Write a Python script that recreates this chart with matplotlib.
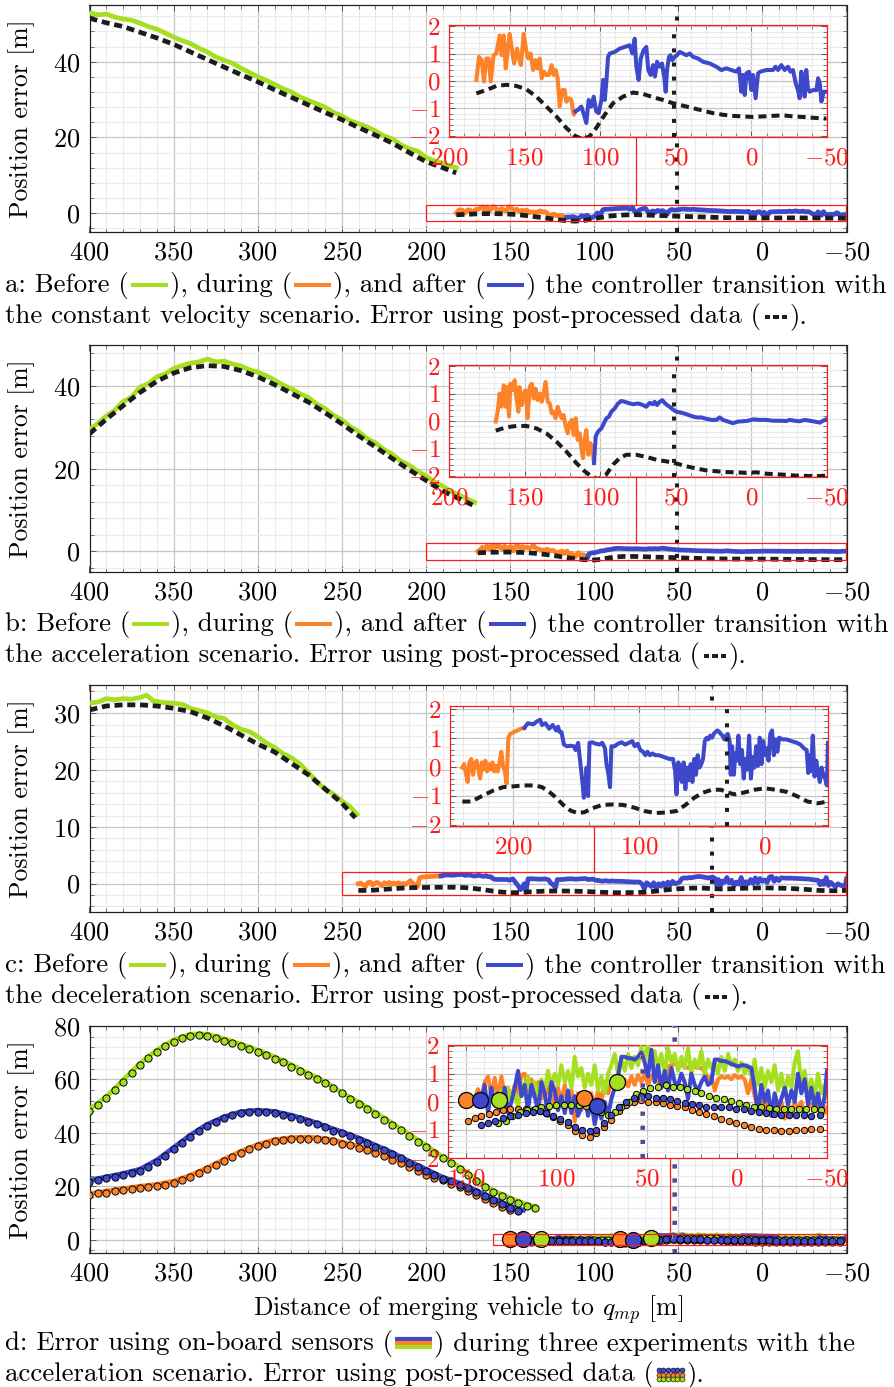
import numpy as np
import matplotlib
matplotlib.use("Agg")
import matplotlib.pyplot as plt
from matplotlib.ticker import MultipleLocator, FuncFormatter
from matplotlib.lines import Line2D
from matplotlib.patches import Rectangle

plt.rcParams.update({
    "font.family": ["cmr10", "DejaVu Serif"],
    "mathtext.fontset": "cm",
    "axes.formatter.use_mathtext": True,
    "axes.unicode_minus": True,
})

# ---------------------------------------------------------------- colours
GREEN = "#a6df1f"
ORANGE = "#fd8228"
BLUE = "#3d48cb"
POST = "#1c1c1c"
RED = "#ff1a1a"
GRID_MAJ = "#c6c6c6"
GRID_MIN = "#ebebeb"

# ================================================================ data
# (a) constant velocity scenario
A_GREEN_X = [400, 395, 390, 385, 380, 375, 370, 365, 360, 355, 350, 345, 340, 335, 330,
             325, 320, 315, 310, 305, 300, 295, 290, 285, 280, 275, 270, 265, 260, 255,
             250, 245, 240, 235, 230, 225, 220, 215, 210, 205, 200, 195, 190, 185, 182]
A_GREEN_Y = [53.0, 52.4, 52.6, 51.8, 51.3, 51.0, 50.2, 49.3, 48.6, 47.6, 46.5, 45.6, 44.8,
             43.6, 42.6, 41.3, 40.4, 39.6, 38.3, 37.2, 36.0, 35.1, 34.0, 32.9, 32.0, 30.7,
             29.8, 28.9, 28.0, 26.6, 25.7, 24.4, 23.6, 22.8, 21.7, 20.4, 19.6, 18.1, 17.0,
             16.4, 14.7, 13.8, 13.2, 12.4, 12.0]
A_POST_BEF_X = [400, 390, 380, 370, 360, 350, 340, 330, 320, 310, 300, 290, 280, 270, 260,
                250, 240, 230, 220, 210, 200, 190, 182]
A_POST_BEF_Y = [51.5, 50.3, 49.3, 47.8, 46.3, 44.6, 42.6, 40.6, 38.6, 36.6, 34.7, 32.6, 30.6,
                28.6, 26.6, 24.7, 22.6, 20.6, 18.5, 16.0, 13.6, 12.0, 10.6]
A_DUR_X = [181.9, 180.2, 178.4, 176.9, 175.3, 173.8, 172.4, 170.5, 168.7, 166.5, 165.2, 163.8,
           162.5, 161.2, 159.9, 158.6, 157.0, 155.0, 153.7, 152.4, 150.6, 148.9, 147.5, 146.0,
           144.4, 142.9, 141.6, 140.0, 138.7, 137.2, 135.6, 133.9, 132.1, 130.8, 129.5, 128.1,
           126.8, 125.0, 123.5, 122.4, 120.6, 119.1, 117.5, 116.4]
A_DUR_Y = [0.04, 0.88, 0.76, -0.02, 0.82, 0.82, -0.02, 0.94, 1.00, 1.66, 0.94, 1.66, 0.46,
           1.12, 1.72, 1.24, 0.64, 1.18, 0.82, 0.58, 1.72, 1.12, 0.82, 1.00, 0.40, 0.76, 0.46,
           0.82, 0.10, 0.34, 0.22, 0.22, 0.58, 0.22, 0.40, 0.10, -0.93, -0.33, -0.33, -0.75,
           -0.63, -0.69, -1.23, -1.11]
A_AFT_X = [116.4, 114.7, 112.5, 110.7, 109.2, 107.6, 105.9, 104.3, 102.6, 101.0,
           99.2, 98.1, 97.0, 95.9, 94.8, 93.7, 90.4, 87.1, 83.8, 80.5,
           78.7, 77.2, 76.1, 74.6, 73.2, 71.3, 69.5, 68.2, 66.6, 65.1,
           63.8, 62.4, 60.7, 59.1, 57.4, 56.7, 55.8, 54.5, 53.6, 52.3,
           50.7, 49.2, 47.4, 45.2, 43.0, 40.8, 38.6, 35.3, 32.0, 27.6,
           23.2, 19.9, 16.6, 13.3, 10.0, 8.2, 6.7, 5.6, 4.4, 3.3,
           1.6, 0.0, -1.1, -2.8, -4.4, -5.9, -9.9, -14.3, -16.0, -17.6,
           -19.8, -22.0, -24.2, -25.8, -27.5, -29.3, -30.8, -31.9, -33.0, -34.1,
           -35.2, -36.3, -37.4, -38.5, -40.7, -43.0, -44.1, -45.2, -46.3, -47.8,
           -49.6]
A_AFT_Y = [-1.11, -1.05, -0.93, -1.23, -1.53, -0.69, -0.93, -0.57, -1.11, -1.17,
           -0.69, 0.04, -0.69, -0.02, 0.88, 1.00, 1.06, 1.18, 1.24, 1.30,
           1.00, 1.54, 0.52, 0.04, 0.82, 1.12, 1.24, 0.40, 0.22, 0.58,
           0.16, 0.70, 0.52, 0.64, 0.04, -0.39, 0.40, 0.88, 0.94, 0.76,
           0.88, 0.94, 1.06, 1.00, 0.94, 1.00, 0.88, 0.82, 0.70, 0.64,
           0.52, 0.40, 0.46, 0.40, 0.34, 0.46, -0.39, 0.22, -0.51, 0.28,
           0.34, -0.33, 0.22, -0.63, 0.28, 0.34, 0.40, 0.40, 0.52, 0.40,
           0.58, 0.40, 0.52, 0.34, 0.40, -0.08, -0.33, -0.63, 0.34, 0.04,
           -0.57, 0.40, -0.27, -0.39, -0.33, -0.33, 0.10, -0.08, -0.75, -0.39,
           -0.39]
A_POST_AFT_X = [181.9, 175.3, 168.7, 162.1, 155.5, 148.9, 142.2, 135.6, 129.0, 122.4, 116.9,
                111.4, 107.0, 102.6, 97.0, 91.5, 84.9, 78.3, 71.7, 65.1, 58.5, 51.9, 45.2,
                38.6, 32.0, 25.4, 18.8, 12.2, 5.6, -1.1, -7.7, -14.3, -20.9, -27.5, -34.1,
                -40.7, -49.6]
A_POST_AFT_Y = [-0.45, -0.33, -0.18, -0.14, -0.18, -0.30, -0.57, -0.93, -1.29, -1.71, -1.99,
                -2.13, -2.01, -1.71, -1.23, -0.81, -0.57, -0.42, -0.47, -0.59, -0.69, -0.81,
                -0.90, -0.99, -1.08, -1.17, -1.23, -1.27, -1.29, -1.31, -1.29, -1.27, -1.25,
                -1.29, -1.31, -1.34, -1.37]
A_SWITCH = 51

# (b) acceleration scenario
B_GREEN_X = [400, 395, 390, 385, 380, 375, 370, 365, 360, 355, 350, 345, 340, 335, 330,
             325, 320, 315, 310, 305, 300, 295, 290, 285, 280, 275, 270, 265, 260, 255,
             250, 245, 240, 235, 230, 225, 220, 215, 210, 205, 200, 195, 190, 185, 180,
             175, 171]
B_GREEN_Y = [29.5, 31.0, 32.8, 34.2, 36.3, 37.4, 39.8, 40.6, 42.3, 43.0,
             44.3, 45.0, 45.6, 45.9, 46.6, 45.9, 46.1, 45.4, 44.9, 44.0,
             43.4, 42.6, 41.5, 40.3, 39.4, 38.2, 37.3, 35.7, 34.6, 33.0,
             31.9, 30.2, 29.0, 27.3, 26.3, 24.7, 23.5, 21.9, 20.9, 19.4,
             18.3, 16.9, 15.8, 14.5, 13.6, 12.6, 11.9]
B_POST_BEF_X = [400, 390, 380, 370, 360, 350, 340, 330, 320, 310, 300, 290, 280, 270, 260,
                250, 240, 230, 220, 210, 200, 190, 180, 171]
B_POST_BEF_Y = [28.5, 32.0, 35.3, 38.5, 41.2, 43.2, 44.5, 45.0, 44.8, 43.8, 42.3, 40.4, 38.3,
                36.2, 33.6, 30.9, 28.0, 25.3, 22.5, 19.8, 17.2, 14.6, 12.7, 11.0]
B_DUR_X = [169.1, 167.8, 166.5, 165.2, 163.8, 162.5, 161.4, 160.3, 159.4, 158.1,
           156.6, 155.5, 154.1, 153.3, 151.9, 150.6, 149.3, 148.0, 146.6, 145.3,
           144.0, 142.7, 141.4, 140.0, 138.7, 137.4, 136.1, 134.7, 133.4, 132.1,
           130.8, 129.5, 128.1, 126.8, 125.5, 124.2, 122.8, 121.5, 120.2, 118.9,
           117.5, 116.2, 114.9, 113.6, 112.3, 111.4, 110.3, 109.2, 107.8, 106.5,
           105.2, 104.1]
B_DUR_Y = [-0.02, 0.34, 1.00, 0.52, 1.30, 0.52, 1.24, 0.16, 1.36, 1.12,
           1.48, 0.88, 0.34, 1.24, 0.58, 1.00, 1.12, 0.10, 1.24, 1.36,
           0.82, 1.18, 0.76, 1.00, 0.70, 1.00, 1.42, 0.70, 0.64, 0.28,
           0.34, 0.10, 0.52, 0.28, 0.10, 0.22, -0.20, -0.45, -0.08, 0.04,
           -0.51, 0.10, -0.69, -0.45, -1.05, -1.35, -0.69, -0.33, -1.23, -0.81,
           -1.05, -1.53]
B_AFT_X = [104.1, 103.0, 101.5, 99.2, 97.0, 95.9, 94.2, 92.6, 90.4, 88.2,
           86.0, 83.8, 81.6, 78.3, 75.0, 71.7, 69.5, 67.3, 65.1, 64.0,
           62.4, 60.7, 58.9, 57.4, 55.8, 54.1, 51.9, 49.6, 46.3, 43.0,
           39.7, 36.4, 33.1, 29.8, 26.5, 23.2, 21.0, 18.8, 15.5, 12.2,
           8.9, 5.6, 2.2, -1.1, -5.5, -9.9, -14.3, -18.7, -23.1, -25.3,
           -28.6, -31.9, -35.2, -38.5, -41.8, -45.2, -47.4, -49.6]
B_AFT_Y = [-1.53, -0.57, -0.39, -0.27, -0.02, 0.10, 0.16, 0.34, 0.46, 0.64,
           0.73, 0.70, 0.66, 0.61, 0.64, 0.58, 0.52, 0.66, 0.61, 0.70,
           0.58, 0.70, 0.76, 0.66, 0.58, 0.52, 0.42, 0.34, 0.30, 0.25,
           0.18, 0.13, 0.13, 0.08, 0.04, 0.04, 0.13, 0.04, -0.02, -0.08,
           -0.02, -0.01, 0.01, 0.06, 0.04, 0.04, 0.01, 0.01, 0.00, 0.04,
           0.01, -0.01, 0.04, 0.01, -0.02, -0.06, 0.01, 0.06]
B_POST_AFT_X = [169.1, 162.1, 155.5, 148.9, 142.2, 135.6, 129.0, 122.4, 115.8, 110.3, 105.9,
                101.5, 96.0, 91.5, 87.1, 82.7, 76.1, 69.5, 62.9, 56.3, 49.6, 43.0, 36.4, 29.8,
                23.2, 16.6, 10.0, 3.3, -3.3, -9.9, -16.5, -23.1, -29.7, -36.3, -42.9, -49.6]
B_POST_AFT_Y = [-0.35, -0.23, -0.18, -0.18, -0.27, -0.45, -0.75, -1.11, -1.53, -1.83, -2.01,
                -2.13, -1.95, -1.59, -1.35, -1.23, -1.23, -1.31, -1.41, -1.47, -1.55, -1.65,
                -1.73, -1.80, -1.83, -1.86, -1.87, -1.89, -1.87, -1.92, -1.94, -1.96, -1.99,
                -2.00, -2.01, -1.99]
B_SWITCH = 51

# (c) deceleration scenario
C_GREEN_X = [400, 395, 390, 385, 380, 375, 370, 366, 362, 356, 350, 345, 340, 335, 330, 325,
             320, 315, 310, 305, 300, 295, 290, 285, 280, 275, 270, 265, 260, 255, 250, 245, 241]
C_GREEN_Y = [31.8, 32.0, 32.6, 32.4, 32.6, 32.5, 32.8, 33.2, 32.2, 31.9, 31.8, 31.6, 30.9,
             30.5, 30.1, 29.4, 29.1, 28.0, 27.2, 26.8, 25.9, 24.8, 24.0, 22.9, 22.2, 21.1,
             19.6, 18.0, 16.6, 15.8, 14.6, 13.5, 12.2]
C_POST_BEF_X = [400, 390, 380, 370, 360, 350, 340, 330, 320, 310, 300, 290, 280, 270, 260, 250, 242]
C_POST_BEF_Y = [30.6, 31.3, 31.5, 31.5, 31.3, 30.9, 30.3, 29.2, 27.8, 26.2, 24.6, 23.2, 21.2,
                19.2, 16.7, 14.2, 11.6]
C_DUR_X = [240.2, 238.8, 237.4, 236.0, 234.6, 233.1, 231.7, 230.3, 228.9, 227.5, 226.1, 224.7,
           223.3, 221.9, 220.5, 219.1, 217.7, 216.3, 214.9, 213.5, 212.1, 210.7, 209.3, 207.9,
           206.5, 205.1, 203.7, 202.2, 199.4, 196.6, 193.8, 191.0]
C_DUR_Y = [-0.02, 0.10, -0.21, -0.52, 0.16, 0.28, -0.27, 0.10, 0.22, -0.09, -0.40, 0.16,
           -0.09, 0.22, -0.15, 0.10, -0.09, 0.16, -0.15, 0.04, -0.15, 0.16, 0.53, 0.04,
           -0.15, -0.58, 1.02, 1.15, 1.21, 1.27, 1.33, 1.36]
C_AFT_X = [191.0, 188.2, 184.0, 181.2, 178.4, 177.0, 174.2, 171.3, 168.5, 165.7,
           164.3, 162.9, 161.5, 159.6, 157.3, 154.5, 151.7, 150.3, 148.3, 146.6,
           144.9, 143.8, 142.7, 141.6, 140.4, 139.3, 137.1, 134.3, 131.5, 129.2,
           127.0, 125.8, 124.4, 123.0, 121.9, 119.4, 116.6, 113.8, 111.0, 108.1,
           105.3, 103.4, 101.1, 98.9, 96.9, 94.9, 93.3, 91.3, 89.3, 87.1,
           84.3, 81.5, 78.6, 75.8, 73.0, 71.3, 70.2, 68.8, 67.4, 66.0,
           64.6, 63.2, 61.8, 60.4, 59.0, 57.6, 56.2, 54.8, 53.4, 52.0,
           50.6, 49.2, 47.8, 46.3, 44.9, 43.5, 42.1, 40.7, 39.3, 37.9,
           36.5, 35.1, 33.7, 32.3, 30.9, 29.5, 28.1, 27.2, 26.1, 24.7,
           23.6, 22.5, 21.1, 19.7, 18.3, 16.9, 15.5, 14.0, 12.6, 11.2,
           9.8, 8.4, 7.0, 5.6, 4.2, 2.8, 1.4, 0.0, -1.4, -2.8,
           -4.2, -5.6, -7.0, -8.4, -9.8, -11.2, -14.0, -16.9, -21.1, -25.3,
           -28.1, -30.9, -33.1, -34.3, -35.4, -36.5, -37.9, -39.3, -40.7, -42.1,
           -43.5, -44.9, -46.3, -47.7, -49.1, -50.0]
C_AFT_Y = [1.36, 1.52, 1.48, 1.58, 1.64, 1.46, 1.52, 1.33, 1.46, 1.27,
           1.40, 1.21, 1.21, 0.78, 0.72, 0.74, 0.72, 0.59, 0.84, 0.16,
           -0.52, -1.07, -0.77, -0.02, -1.01, 0.84, 0.86, 0.81, 0.78, 0.84,
           0.65, 0.10, -0.21, -0.70, 0.72, 0.72, 0.81, 0.86, 0.78, 0.84,
           0.90, 0.72, 0.81, 0.59, 0.53, 0.41, 0.53, 0.41, 0.47, 0.41,
           0.41, 0.37, 0.32, 0.28, 0.28, -0.15, -0.95, 0.16, -0.15, -0.52,
           0.16, -0.77, -0.02, -0.46, 0.10, -0.52, 0.28, -0.27, 0.41, -0.02,
           0.10, 0.28, 0.90, 1.02, 0.96, 1.09, 1.02, 1.15, 1.21, 1.27,
           1.23, 1.15, 1.09, 0.96, 1.09, 1.15, 0.90, -0.27, 0.72, -0.27,
           0.47, 0.22, 1.09, 0.10, 0.59, -0.40, 0.28, -0.09, 1.09, -0.40,
           0.35, -0.02, 0.72, 0.04, 1.02, 0.10, 0.90, 0.41, 0.65, 0.22,
           1.15, 1.27, 0.41, 0.96, 0.53, 1.02, 0.96, 0.96, 0.90, 0.84,
           0.78, 0.65, 0.59, -0.21, 0.41, -0.15, 1.09, -0.33, 0.22, -0.21,
           -0.52, -0.02, -0.27, -0.40, -0.64, 0.84]
C_POST_AFT_X = [240.2, 233.1, 224.7, 216.3, 207.9, 199.4, 191.0, 182.6, 177.0, 171.3, 165.7,
                160.1, 154.5, 148.9, 143.3, 137.6, 129.2, 120.8, 112.4, 103.9, 95.5, 87.1,
                78.6, 70.2, 63.2, 56.2, 49.2, 42.1, 35.1, 29.5, 23.9, 16.9, 8.4, 0.0, -8.4,
                -16.9, -25.3, -33.7, -42.1, -50.0]
C_POST_AFT_Y = [-1.20, -1.20, -1.01, -0.83, -0.70, -0.67, -0.64, -0.64, -0.70, -0.86, -1.07,
                -1.32, -1.51, -1.60, -1.57, -1.44, -1.32, -1.30, -1.32, -1.41, -1.53, -1.60,
                -1.58, -1.53, -1.32, -1.07, -0.89, -0.79, -0.79, -0.89, -0.95, -0.89, -0.79,
                -0.74, -0.79, -0.86, -1.01, -1.20, -1.26, -1.20]
C_SWITCH = 30

# (d) three acceleration experiments: post-processed error before the transition
D_ORANGE_PP_BEF_X = list(range(400, 145, -5))
D_ORANGE_PP_BEF_Y = [16.6, 17.3, 17.6, 18.1, 18.5, 18.9, 19.4, 19.8, 20.1, 20.6,
                     21.3, 22.3, 23.5, 24.8, 26.3, 27.9, 29.5, 31.0, 32.5, 33.8,
                     35.0, 36.0, 36.8, 37.3, 37.6, 37.8, 37.8, 37.6, 37.3, 36.8,
                     36.0, 35.3, 34.4, 33.5, 32.5, 31.3, 30.0, 28.8, 27.3, 25.8,
                     24.3, 23.2, 22.2, 21.0, 19.6, 18.1, 16.6, 15.1, 13.6, 12.4, 11.0]
D_BLUE_PP_BEF_X = list(range(400, 140, -5))
D_BLUE_PP_BEF_Y = [21.6, 22.3, 22.9, 23.5, 24.1, 24.8, 25.8, 27.3, 29.1, 31.3,
                   33.8, 36.3, 38.5, 40.6, 42.6, 44.1, 45.4, 46.5, 47.3, 47.8,
                   47.9, 47.8, 47.4, 46.8, 46.0, 45.1, 44.1, 43.3, 42.0, 40.8,
                   39.8, 38.8, 37.5, 36.3, 34.8, 33.5, 32.0, 30.4, 28.8, 27.3,
                   25.8, 24.1, 22.8, 21.8, 20.6, 19.2, 17.8, 16.3, 14.8, 13.2, 12.0, 10.9]
D_GREEN_PP_BEF_X = list(range(400, 130, -5))
D_GREEN_PP_BEF_Y = [48.2, 50.4, 52.9, 56.0, 59.1, 62.3, 65.4, 67.9, 70.4, 72.5,
                    74.1, 75.4, 76.3, 76.5, 76.3, 75.4, 74.5, 73.5, 72.5, 71.4,
                    70.4, 69.0, 67.8, 66.4, 64.8, 63.3, 61.6, 60.1, 58.5, 56.6,
                    54.8, 52.8, 50.8, 48.8, 47.0, 44.8, 42.9, 41.0, 38.8, 36.6,
                    34.8, 32.5, 30.4, 28.6, 26.5, 24.3, 22.0, 19.8, 17.8, 16.2,
                    15.0, 13.7, 12.6, 11.9]
# on-board error before the transition
D_ORANGE_OB_BEF_X = [400, 390, 380, 370, 360, 350, 340, 330, 320, 310, 300, 290, 280, 270,
                     260, 250, 240, 230, 220, 210, 200, 190, 180, 170, 160, 150]
D_ORANGE_OB_BEF_Y = [17.2, 18.2, 19.1, 20.0, 20.7, 21.9, 24.1, 26.9, 30.1, 33.1, 35.6, 37.4,
                     38.2, 38.4, 37.9, 36.6, 35.0, 33.1, 30.6, 27.9, 24.7, 22.8, 20.2, 17.2,
                     14.2, 11.6]
D_BLUE_OB_BEF_X = [400, 390, 380, 370, 360, 350, 340, 330, 320, 310, 300, 290, 280, 270,
                   260, 250, 240, 230, 220, 210, 200, 190, 180, 170, 160, 150, 142]
D_BLUE_OB_BEF_Y = [22.2, 23.5, 24.8, 26.4, 29.8, 34.5, 39.2, 43.2, 46.0, 47.9,
                   48.5, 48.0, 46.6, 44.8, 42.6, 40.4, 38.1, 35.4, 32.6, 29.4,
                   26.4, 23.4, 21.2, 18.4, 15.4, 12.6, 11.0]
D_GREEN_OB_BEF_X = [400, 390, 380, 370, 360, 350, 340, 330, 320, 310, 300, 290, 280, 270,
                    260, 250, 240, 230, 220, 210, 200, 190, 180, 170, 160, 150, 140, 135]
D_GREEN_OB_BEF_Y = [48.8, 53.5, 59.8, 66.0, 71.0, 74.8, 77.0, 77.0, 75.2, 73.2,
                    71.0, 68.5, 65.5, 62.3, 59.2, 55.0, 51.5, 47.6, 43.6, 39.5,
                    35.4, 31.0, 27.2, 22.6, 18.4, 15.6, 13.2, 12.4]
# on-board error during/after the transition (common sample positions)
D_OB_AFT_X = [148.9, 147.1, 145.2, 143.4, 141.5, 139.7, 137.8, 136.0, 134.1, 132.3,
              130.4, 128.6, 126.7, 124.9, 123.0, 121.2, 119.3, 117.5, 115.7, 113.8,
              112.0, 110.1, 108.3, 106.4, 104.6, 102.7, 100.9, 99.0, 97.2, 95.3,
              93.5, 91.6, 89.8, 88.0, 86.1, 84.3, 82.4, 80.6, 78.7, 76.9,
              75.0, 73.2, 71.3, 69.5, 67.6, 65.8, 63.9, 62.1, 60.2, 58.4,
              56.6, 54.7, 52.9, 51.0, 49.2, 47.3, 45.5, 43.6, 41.8, 39.9,
              38.1, 36.2, 34.4, 32.5, 30.7, 28.9, 27.0, 25.2, 23.3, 21.5,
              19.6, 17.8, 15.9, 14.1, 12.2, 10.4, 8.5, 6.7, 4.8, 3.0,
              1.1, -0.7, -2.6, -4.4, -6.2, -8.1, -9.9, -11.8, -13.6, -15.5,
              -17.3, -19.2, -21.0, -22.9, -24.7, -26.6, -28.4, -30.3, -32.1, -33.9,
              -35.8, -37.6, -39.5, -41.3, -43.2, -45.0, -46.9, -48.7, -50.0]
D_ORANGE_OB_AFT_Y = [0.0, 0.05, 0.1, 0.45, 0.1, 0.7, 0.9, 0.2, 0.85, 0.1,
                     0.9, 0.2, 0.5, 0.1, 0.6, 0.3, 0.95, 1.0, 0.4, 0.8,
                     0.2, 0.7, 0.1, 0.6, 0.3, 0.8, -0.2, 0.5, 0.0, 0.6,
                     -0.2, 0.4, -0.7, 0.3, -0.3, 0.2, -0.4, 0.3, -0.2, 0.4,
                     0.0, 0.7, 0.3, 0.7, 0.5, 0.8, 0.6, 0.8, 0.55, 0.9,
                     0.6, 0.95, 0.7, 1.0, 0.6, 0.9, 1.0, 0.7, 0.9, 0.6,
                     1.25, 1.3, 1.35, 1.3, 1.3, 1.25, 1.2, 1.3, 1.25, 1.2,
                     1.2, 1.1, 0.8, 0.9, 0.4, 0.8, 0.9, 0.85, 0.9, 0.8,
                     0.95, 0.85, 0.9, 0.8, 0.3, 0.8, 0.2, -0.2, 0.3, -0.3,
                     0.2, -0.5, 0.1, -0.4, 0.0, -0.6, -0.1, -0.4, 0.0, -0.3,
                     0.0, -0.5, -0.2, -0.1, 0.0, -0.3, -0.1, -0.4, -0.2]
D_BLUE_OB_AFT_Y = [0.0, 0.6, -0.4, 0.5, -0.1, 0.3, -0.3, 0.5, -0.4, 0.0,
                   0.5, 1.1, 0.2, 0.6, -0.3, 0.6, 0.2, -0.3, 0.7, 0.3,
                   -0.5, 0.7, 0.4, -0.3, 0.2, -0.4, 0.4, -0.4, 0.2, -0.5,
                   -0.2, 0.2, -0.5, 0.0, -0.8, -0.2, -0.6, 0.0, -0.5, 0.1,
                   0.5, 0.9, 1.6, 1.6, 1.55, 1.55, 1.5, 1.6, 1.75, 1.4,
                   0.9, 1.85, 0.7, 1.3, 0.5, 1.1, 0.4, 1.2, 0.7, 0.6,
                   1.0, 0.7, 0.1, 1.0, 0.6, 0.4, 0.7, 0.9, 0.6, 0.7,
                   1.5, 1.5, 1.45, 1.45, 1.4, 1.35, 1.3, 1.25, 1.3, 1.3,
                   1.25, 1.2, 0.5, -0.4, 0.6, 0.0, 0.4, -0.5, 0.3, -0.2,
                   0.1, 0.5, -0.1, 0.4, 0.0, 1.0, 0.3, 0.8, -0.1, 0.5,
                   -0.2, 0.3, -0.4, 0.2, 1.1]
D_GREEN_OB_AFT_Y = [0.0, 0.4, -0.3, 0.5, 0.0, 0.3, -0.2, 0.7, 0.3, 0.9,
                    0.2, 0.7, 0.1, 0.8, 0.4, 1.1, 0.5, 1.0, 0.6, 1.3,
                    0.7, 1.1, 0.5, 1.6, 0.9, 1.2, 0.5, 1.0, 0.6, 1.3,
                    0.4, 0.9, 0.3, 1.0, 1.3, 1.7, 1.0, 1.5, 1.1, 1.7,
                    1.2, 1.6, 1.3, 1.95, 1.5, 2.1, 1.3, 1.8, 1.2, 1.7,
                    1.0, 1.9, 1.4, 1.7, 1.1, 1.6, 1.2, 1.9, 1.0, 1.5,
                    1.2, 1.8, 1.0, 1.5, 1.2, 1.4, 1.0, 1.6, 1.1, 1.7,
                    1.3, 1.5, 1.1, 1.4, 1.0, 1.3, 0.9, 1.5, 0.6, 1.2,
                    0.5, 1.1, 0.7, 1.3, 0.4, 1.0, 0.3, 0.9, 0.5, 1.4,
                    1.8, 0.6, 1.1, 0.3, 0.8, 0.2, 1.0, 0.3, 0.6, 0.1]
# post-processed error during/after the transition
D_ORANGE_PP_AFT_X = [148.9, 145.2, 141.5, 137.3, 133.2, 129.5, 125.5, 121.2, 117.0, 112.9,
                     109.2, 105.5, 101.8, 97.8, 93.5, 89.8, 85.6, 81.5, 77.8, 73.6,
                     69.5, 65.2, 61.2, 57.1, 52.9, 49.2, 44.9, 40.9, 37.2, 33.1,
                     28.9, 24.6, 20.9, 16.9, 12.8, 8.5, 4.3, 0.2, -3.8, -8.1,
                     -12.3, -16.4, -20.5, -24.7, -29.0, -33.0, -37.1, -41.3, -45.9]
D_ORANGE_PP_AFT_Y = [-0.67, -0.58, -0.50, -0.44, -0.37, -0.30, -0.27, -0.25, -0.25, -0.28,
                     -0.32, -0.41, -0.53, -0.67, -0.84, -1.03, -1.17, -1.24, -1.12, -0.91,
                     -0.64, -0.34, -0.13, 0.01, 0.07, 0.01, -0.01, -0.05, -0.11, -0.15,
                     -0.20, -0.30, -0.37, -0.44, -0.52, -0.60, -0.70, -0.77, -0.84, -0.91,
                     -0.96, -0.99, -1.02, -1.03, -1.03, -1.02, -1.01, -0.98, -0.96]
D_BLUE_PP_AFT_X = [141.5, 137.8, 134.1, 129.5, 125.5, 121.2, 117.0, 112.9, 109.2, 105.5,
                   101.8, 97.8, 93.5, 89.8, 85.6, 81.5, 77.8, 73.6, 69.5, 65.2,
                   61.2, 57.1, 52.9, 49.2, 44.9, 40.9, 37.2, 33.1, 28.9, 24.6,
                   20.9, 16.9, 12.8, 8.5, 4.3, 0.2, -3.8, -8.1, -12.3, -16.4,
                   -20.5, -24.7, -29.0, -33.0, -37.1, -41.3, -45.9]
D_BLUE_PP_AFT_Y = [-0.82, -0.76, -0.70, -0.58, -0.52, -0.46, -0.41, -0.37, -0.34, -0.40,
                   -0.49, -0.60, -0.72, -0.88, -1.01, -1.05, -0.99, -0.77, -0.46, -0.20,
                   0.01, 0.15, 0.20, 0.19, 0.15, 0.13, 0.11, 0.04, -0.04, -0.08,
                   -0.13, -0.17, -0.18, -0.20, -0.20, -0.25, -0.27, -0.32, -0.37, -0.41,
                   -0.44, -0.46, -0.46, -0.46, -0.46, -0.49, -0.46]
D_GREEN_PP_AFT_X = [132.3, 128.0, 124.4, 120.3, 116.2, 112.0, 108.3, 104.0, 100.0, 95.9,
                    91.7, 87.4, 83.4, 79.3, 75.2, 71.3, 67.7, 64.0, 59.7, 55.6,
                    52.0, 47.9, 43.6, 39.4, 35.3, 31.3, 27.6, 23.3, 19.6, 15.4,
                    11.3, 7.3, 3.0, -1.2, -5.3, -9.4, -13.6, -17.9, -21.9, -26.0,
                    -30.2, -34.5, -38.6, -42.6, -46.9]
D_GREEN_PP_AFT_Y = [-0.76, -0.67, -0.51, -0.37, -0.30, -0.25, -0.20, -0.14, -0.13, -0.13,
                    -0.13, -0.13, -0.15, -0.22, -0.37, -0.46, -0.37, -0.20, 0.01, 0.27,
                    0.39, 0.49, 0.52, 0.58, 0.54, 0.51, 0.46, 0.39, 0.32, 0.22,
                    0.15, 0.11, 0.04, -0.05, -0.13, -0.18, -0.20, -0.22, -0.25, -0.25,
                    -0.27, -0.25, -0.27, -0.27, -0.30]
# start of the transition and start of the new controller, per experiment
D_START_X = {"orange": 150.2, "blue": 142.1, "green": 131.7}
D_START_Y = {"orange": 0.07, "blue": 0.07, "green": 0.07}
D_END_X = {"orange": 84.6, "blue": 77.2, "green": 66.2}
D_END_Y = {"orange": 0.13, "blue": -0.14, "green": 0.69}
D_SWITCH = {"green": 52.6, "orange": 52.3, "blue": 52.0}

# ================================================================ figure
W, H, DPI = 894, 1387, 100
fig = plt.figure(figsize=(W / DPI, H / DPI), dpi=DPI)
fig.patch.set_facecolor("white")

MAIN_L, MAIN_R = 89.5, 846.5
TICK_FS = 19
INS_FS = 18
LW_MAIN, LW_INS = 3.4, 2.9
DASH_MAIN, DASH_INS = (1.7, 1.0), (2.0, 1.25)
DOT_STYLE = dict(color=POST, lw=2.9, dashes=(1.0, 2.5), zorder=6)


def px_rect(l, t, r, b):
    return [l / W, 1 - b / H, (r - l) / W, (b - t) / H]


def tick_fmt(v, p):
    return f"${v:g}$"


def setup_axes(ax, xlim, ylim, xmaj, xmin, ymaj, ymin, spine, labelcolor, fs, xpad, ypad):
    ax.set_xlim(*xlim)
    ax.set_ylim(*ylim)
    ax.xaxis.set_major_locator(MultipleLocator(xmaj))
    ax.xaxis.set_minor_locator(MultipleLocator(xmin))
    ax.yaxis.set_major_locator(MultipleLocator(ymaj))
    ax.yaxis.set_minor_locator(MultipleLocator(ymin))
    ax.xaxis.set_major_formatter(FuncFormatter(tick_fmt))
    ax.yaxis.set_major_formatter(FuncFormatter(tick_fmt))
    ax.grid(True, which="major", color=GRID_MAJ, lw=0.9)
    ax.grid(True, which="minor", color=GRID_MIN, lw=0.8)
    ax.set_axisbelow(True)
    ax.tick_params(which="both", direction="in", top=True, right=True, color="#4a4a4a")
    ax.tick_params(which="major", length=4.2, width=0.6, labelsize=fs, labelcolor=labelcolor)
    ax.tick_params(which="minor", length=2.6, width=0.5)
    ax.tick_params(axis="x", which="major", pad=xpad)
    ax.tick_params(axis="y", which="major", pad=ypad)
    for s in ax.spines.values():
        s.set_color(spine)
        s.set_linewidth(0.9)


def zoom_frame(ax, ins, xlim, ylim, ins_bottom_px):
    """Red box around the zoomed region plus the link up to the inset."""
    ax.add_patch(Rectangle((min(xlim), ylim[0]), abs(xlim[0] - xlim[1]), ylim[1] - ylim[0],
                           fill=False, ec=RED, lw=0.9, zorder=7))
    xm = 0.5 * (xlim[0] + xlim[1])
    y_top = ax.transData.inverted().transform((0, H - ins_bottom_px))[1]
    ax.plot([xm, xm], [ylim[1], y_top], color=RED, lw=0.9, zorder=7, clip_on=False)


def main_axes(top, bottom, ylim, ymaj, ymin):
    ax = fig.add_axes(px_rect(MAIN_L, top, MAIN_R, bottom))
    ax.set_zorder(1)
    setup_axes(ax, (400, -50), ylim, 50, 10, ymaj, ymin, "#222222", "black", TICK_FS, 6, 6.5)
    ax.set_ylabel("Position error [m]", fontsize=18.5)
    ax.yaxis.set_label_coords(-0.072, 0.5)
    return ax


def inset_axes(box, xlim, xmaj, xmin, ylim):
    ins = fig.add_axes(px_rect(*box))
    ins.set_zorder(3)
    ins.set_facecolor("white")
    setup_axes(ins, xlim, ylim, xmaj, xmin, 1, 0.2, RED, RED, INS_FS, 7.5, 6)
    return ins


def phase_panel(top, bottom, ylim, ymaj, ymin, box, ixlim, ixmaj, ixmin, iylim,
                green, post_bef, dur, aft, post_aft, switch):
    ax = main_axes(top, bottom, ylim, ymaj, ymin)
    ins = inset_axes(box, ixlim, ixmaj, ixmin, iylim)
    for a, lw, dsh in ((ax, LW_MAIN, DASH_MAIN), (ins, LW_INS, DASH_INS)):
        a.plot(*green, color=GREEN, lw=lw, solid_joinstyle="round", zorder=3)
        a.plot(*dur, color=ORANGE, lw=lw, solid_joinstyle="round", zorder=3)
        a.plot(*aft, color=BLUE, lw=lw, solid_joinstyle="round", zorder=3)
        a.plot(*post_bef, color=POST, lw=lw, dashes=dsh, zorder=4)
        a.plot(*post_aft, color=POST, lw=lw, dashes=dsh, zorder=4)
        a.axvline(switch, **DOT_STYLE)
    zoom_frame(ax, ins, ixlim, iylim, box[3])
    return ax, ins


phase_panel(5, 232, (-5, 55), 20, 4, (449, 25, 827, 137), (200, -50), 50, 10, (-2.04, 2.04),
            (A_GREEN_X, A_GREEN_Y), (A_POST_BEF_X, A_POST_BEF_Y), (A_DUR_X, A_DUR_Y),
            (A_AFT_X, A_AFT_Y), (A_POST_AFT_X, A_POST_AFT_Y), A_SWITCH)
phase_panel(345, 572, (-5, 50), 20, 4, (449, 365, 827, 477), (200, -50), 50, 10, (-2.04, 2.04),
            (B_GREEN_X, B_GREEN_Y), (B_POST_BEF_X, B_POST_BEF_Y), (B_DUR_X, B_DUR_Y),
            (B_AFT_X, B_AFT_Y), (B_POST_AFT_X, B_POST_AFT_Y), B_SWITCH)
phase_panel(685, 912, (-5, 35), 10, 2, (450, 706, 828, 826), (250, -50), 100, 20, (-2.05, 2.12),
            (C_GREEN_X, C_GREEN_Y), (C_POST_BEF_X, C_POST_BEF_Y), (C_DUR_X, C_DUR_Y),
            (C_AFT_X, C_AFT_Y), (C_POST_AFT_X, C_POST_AFT_Y), C_SWITCH)

# ---- panel d
D_BOX = (448, 1045, 827, 1158)
D_IXLIM, D_IYLIM = (160, -50), (-2.0, 2.02)
axd = main_axes(1026, 1253, (-5, 80), 20, 4)
insd = inset_axes(D_BOX, D_IXLIM, 50, 10, D_IYLIM)

COL = {"orange": ORANGE, "blue": BLUE, "green": GREEN}
ob_before = {"orange": (D_ORANGE_OB_BEF_X, D_ORANGE_OB_BEF_Y),
             "blue": (D_BLUE_OB_BEF_X, D_BLUE_OB_BEF_Y),
             "green": (D_GREEN_OB_BEF_X, D_GREEN_OB_BEF_Y)}
ob_after = {"orange": D_ORANGE_OB_AFT_Y, "green": D_GREEN_OB_AFT_Y, "blue": D_BLUE_OB_AFT_Y}
pp_before = {"orange": (D_ORANGE_PP_BEF_X, D_ORANGE_PP_BEF_Y),
             "green": (D_GREEN_PP_BEF_X, D_GREEN_PP_BEF_Y),
             "blue": (D_BLUE_PP_BEF_X, D_BLUE_PP_BEF_Y)}
pp_after = {"orange": (D_ORANGE_PP_AFT_X, D_ORANGE_PP_AFT_Y),
            "green": (D_GREEN_PP_AFT_X, D_GREEN_PP_AFT_Y),
            "blue": (D_BLUE_PP_AFT_X, D_BLUE_PP_AFT_Y)}

for a, lw, ms in ((axd, LW_MAIN, 5.2), (insd, LW_INS, 4.6)):
    for k in ("orange", "green", "blue"):
        a.plot(*ob_before[k], color=COL[k], lw=lw, zorder=3)
        y = ob_after[k]
        a.plot(D_OB_AFT_X[-len(y):], y, color=COL[k], lw=lw, solid_joinstyle="round", zorder=3)
    for k in ("orange", "green", "blue"):
        for xs, ys in (pp_before[k], pp_after[k]):
            a.plot(xs, ys, ls="none", marker="o", ms=ms, mfc=COL[k], mec="black",
                   mew=0.7, zorder=4)
    for k in ("orange", "blue", "green"):
        a.plot([D_START_X[k], D_END_X[k]], [D_START_Y[k], D_END_Y[k]], ls="none",
               marker="o", ms=11.5, mfc=COL[k], mec="black", mew=0.9, zorder=5)
    for k in ("green", "orange", "blue"):
        a.axvline(D_SWITCH[k], color=COL[k], lw=2.9, dashes=(1.0, 2.5), zorder=6)
zoom_frame(axd, insd, D_IXLIM, D_IYLIM, D_BOX[3])

fig.text(468 / W, 1 - 1316 / H, r"Distance of merging vehicle to $q_{mp}$ [m]",
         fontsize=18.5, ha="center", va="baseline")

# ================================================================ captions
renderer = fig.canvas.get_renderer()
SW = {"line": 41, "dash": 29, "stack": 41, "dots": 33}


def draw_swatch(item, x, base, fs):
    fs_px = fs * DPI / 72
    yc = base - 0.26 * fs_px
    fx = lambda p: p / W
    fy = lambda p: 1 - p / H
    kind = item[0]
    if kind == "line":
        fig.add_artist(Line2D([fx(x + 2), fx(x + 39)], [fy(yc)] * 2, color=item[1], lw=2.9,
                              solid_capstyle="butt"))
    elif kind == "dash":
        for i in range(3):
            x0 = x + 3.5 + i * 8.5
            fig.add_artist(Line2D([fx(x0), fx(x0 + 5.5)], [fy(yc)] * 2, color=POST, lw=2.9,
                                  solid_capstyle="butt"))
    elif kind == "stack":
        for i, c in enumerate((BLUE, ORANGE, GREEN)):
            yy = yc - 4.2 + i * 4.2
            fig.add_artist(Line2D([fx(x + 2), fx(x + 39)], [fy(yy)] * 2, color=c, lw=3.0,
                                  solid_capstyle="butt"))
    elif kind == "dots":
        for i, c in enumerate((BLUE, ORANGE, GREEN)):
            yy = yc - 4.8 + i * 4.8
            xs = [fx(x + 5 + j * 4.6) for j in range(6)]
            fig.add_artist(Line2D(xs, [fy(yy)] * 6, ls="none", marker="o", ms=3.6, mfc=c,
                                  mec="black", mew=0.4))


def rich_line(items, base, fs, x0=5.0, draw=True):
    x = x0
    for it in items:
        if isinstance(it, str):
            t = fig.text(x / W, 1 - base / H, it, fontsize=fs, ha="left", va="baseline")
            w = t.get_window_extent(renderer=renderer).width
            if not draw:
                t.remove()
            x += w
        else:
            if draw:
                draw_swatch(it, x, base, fs)
            x += SW[it[0]]
    return x - x0


def phase_caption(letter, scenario):
    l1 = [f"{letter}: Before (", ("line", GREEN), "), during (", ("line", ORANGE),
          "), and after (", ("line", BLUE), ") the controller transition with"]
    l2 = [f"the {scenario} scenario. Error using post-processed data (", ("dash",), ")."]
    return l1, l2


CAPTIONS = [
    (phase_caption("a", "constant velocity"), 292),
    (phase_caption("b", "acceleration"), 631),
    (phase_caption("c", "deceleration"), 972),
    (([ "d: Error using on-board sensors (", ("stack",), ") during three experiments with the"],
      ["acceleration scenario. Error using post-processed data (", ("dots",), ")."]), 1350),
]

# size the caption font so the first caption line spans the page width
first = CAPTIONS[0][0][0]
sw_total = sum(SW[i[0]] for i in first if not isinstance(i, str))
fs = 19.0
for _ in range(3):
    w = rich_line(first, 0, fs, draw=False)
    fs = fs * (883 - sw_total) / (w - sw_total)

for (l1, l2), base in CAPTIONS:
    rich_line(l1, base, fs)
    rich_line(l2, base + 31.5, fs)

fig.savefig("out.png", dpi=DPI)
